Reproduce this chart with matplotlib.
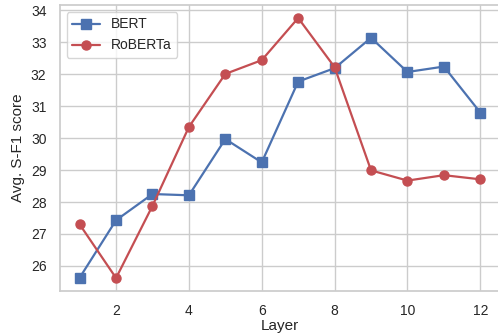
import numpy as np
import matplotlib
matplotlib.use("Agg")
import matplotlib.pyplot as plt
import seaborn as sns

# データ
layers = [1, 2, 3, 4, 5, 6, 7, 8, 9, 10, 11, 12]
bert_scores = [25.63, 27.43, 28.25, 28.21, 29.97, 29.24, 31.77, 32.19, 33.14, 32.07, 32.24, 30.80]
roberta_scores = [27.30, 25.62, 27.88, 30.35, 32.01, 32.44, 33.76, 32.22, 28.99, 28.67, 28.84, 28.71]

sns.set_theme(style="whitegrid", color_codes=True)
plt.rcParams["font.family"] = ["Liberation Sans", "DejaVu Sans"]

fig = plt.figure(figsize=(4.98, 3.33), dpi=100)
ax = fig.add_axes([0.1197, 0.126, 0.885, 0.859])

ax.plot(layers, bert_scores, "b-s", label="BERT", markersize=6.5, linewidth=1.6)
ax.plot(layers, roberta_scores, "r-o", label="RoBERTa", markersize=6.5, linewidth=1.6)

ax.set_xticks([2, 4, 6, 8, 10, 12])
ax.set_xlabel("Layer", fontsize=11, color=".15", labelpad=0.5)
ax.set_ylabel("Avg. S-F1 score", fontsize=11, color=".15")
ax.tick_params(labelsize=10, colors=".15")
ax.legend(loc="upper left", fontsize=10)

fig.savefig("out.png", dpi=100)
